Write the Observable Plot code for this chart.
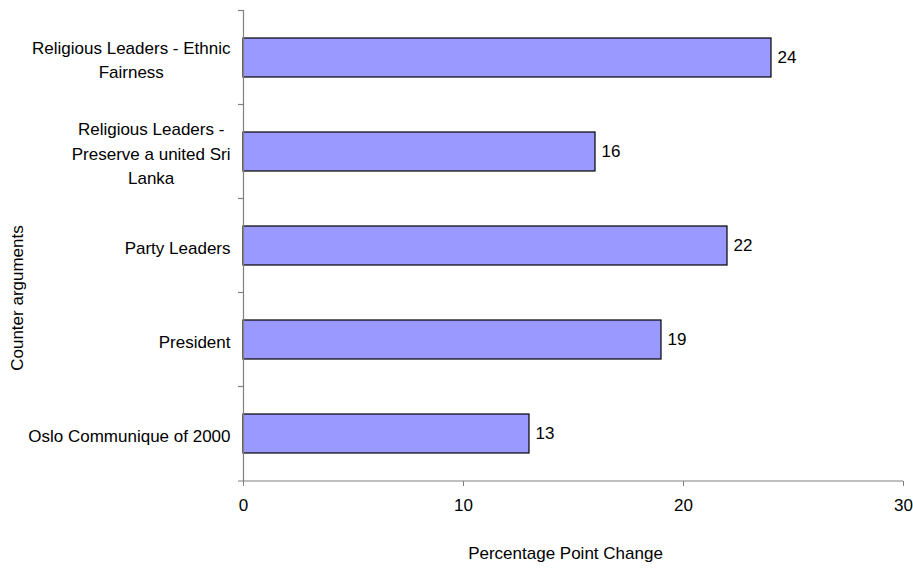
<!DOCTYPE html>
<html>
<head>
<meta charset="utf-8">
<script src="https://cdn.jsdelivr.net/npm/d3@7"></script>
<script src="https://cdn.jsdelivr.net/npm/@observablehq/plot@0.6"></script>
<style>
  html, body { margin: 0; padding: 0; background: #fff; }
  #chart { width: 913px; height: 568px; }
</style>
</head>
<body>
<div id="chart"></div>
<script>
// ---- data ----
const categories = [
  "Religious Leaders - Ethnic Fairness",
  "Religious Leaders - Preserve a united Sri Lanka",
  "Party Leaders",
  "President",
  "Oslo Communique of 2000"
];
const categoryLabels = [
  "Religious Leaders - Ethnic\nFairness",
  "Religious Leaders -\nPreserve a united Sri\nLanka",
  "Party Leaders",
  "President",
  "Oslo Communique of 2000"
];
const values = [24, 16, 22, 19, 13];
const xTicks = [0, 10, 20, 30];
const xTitle = "Percentage Point Change";
const yTitle = "Counter arguments";

const data = categories.map((c, i) => ({category: c, label: categoryLabels[i], value: values[i]}));

const FONT = "Liberation Sans, Arial, sans-serif";
const FS = 17;
const canvas = document.createElement("canvas");
const ctx = canvas.getContext("2d");
ctx.font = `${FS}px "Liberation Sans"`;
const blockWidth = s => Math.max(...s.split("\n").map(l => ctx.measureText(l).width));

const labelMarks = data.map(d => Plot.text([d], {
  y: "category",
  text: "label",
  frameAnchor: "left",
  textAnchor: "middle",
  lineAnchor: "middle",
  lineHeight: 1.44,
  dx: -13 - blockWidth(d.label) / 2,
  fill: "black",
  fontSize: FS
}));

const plot = Plot.plot({
  width: 913,
  height: 568,
  marginLeft: 243,
  marginRight: 10,
  marginTop: 10,
  marginBottom: 87,
  style: {fontFamily: FONT, fontSize: FS + "px", color: "black", background: "white", overflow: "visible"},
  x: {domain: [0, 30], ticks: xTicks},
  y: {domain: categories, paddingInner: 0.586, paddingOuter: 0.293, align: 0.5, axis: null},
  marks: [
    Plot.barX(data, {x: "value", y: "category", fill: "#9999FF", stroke: "black", strokeWidth: 1.2}),
    Plot.text(data, {x: "value", y: "category", text: d => String(d.value), textAnchor: "start", dx: 6, fill: "black", fontSize: FS}),
    Plot.ruleX([0], {stroke: "#808080", strokeWidth: 1.2}),
    Plot.axisX({ticks: xTicks, tickSize: 5, tickPadding: 12, stroke: "#808080", label: null, fontSize: FS}),
    ...labelMarks,
    Plot.text([xTitle], {frameAnchor: "bottom", textAnchor: "middle", lineAnchor: "middle", dx: -8, dy: 72, fill: "black", fontSize: FS}),
    Plot.text([yTitle], {frameAnchor: "left", textAnchor: "middle", lineAnchor: "middle", dx: -226, dy: 52, rotate: -90, fill: "black", fontSize: FS})
  ]
});

// axis line along the bottom and category boundary ticks on the y axis, from the plot's own scales
const svg = d3.select(plot);
const xs = plot.scale("x");
const ys = plot.scale("y");
const yPos = ys.apply;
const gap = (ys.step - ys.bandwidth) / 2;
const yBottom = 568 - 87;
const x0 = xs.apply(0), x1 = xs.apply(30);
const g = svg.append("g").attr("stroke", "#808080").attr("stroke-width", 1.2);
g.append("line").attr("x1", x0 - 5).attr("x2", x1).attr("y1", yBottom).attr("y2", yBottom);
categories.forEach(c => {
  const yTop = yPos(c) - gap;
  g.append("line").attr("x1", x0 - 5).attr("x2", x0).attr("y1", yTop).attr("y2", yTop);
});

document.getElementById("chart").appendChild(plot);
</script>
</body>
</html>
